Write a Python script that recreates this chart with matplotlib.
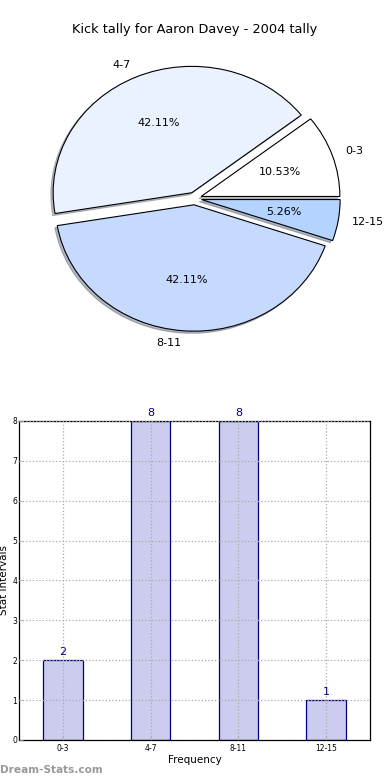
import matplotlib
matplotlib.use("Agg")
import matplotlib.pyplot as plt
import numpy as np

categories = ["0-3", "4-7", "8-11", "12-15"]
counts = [2, 8, 8, 1]
pie_colors = ["#ffffff", "#eaf1ff", "#c6d9ff", "#b4d4ff"]
title = "Kick tally for Aaron Davey - 2004 tally"

fig = plt.figure(figsize=(3.9, 7.8), dpi=100)

# Pie
ax1 = fig.add_axes([0.0545, 0.543, 0.889, 0.405])
wedges, texts, autotexts = ax1.pie(
    counts, labels=categories, colors=pie_colors, autopct="%1.2f%%",
    explode=[0.05] * len(counts),
    shadow=dict(ox=-0.012, oy=-0.012, shade=0.5),
    startangle=0,
    wedgeprops=dict(edgecolor="black", linewidth=0.8),
    textprops=dict(fontsize=8))
ax1.set_aspect("auto")
ax1.set_xlim(-1.25, 1.25)
ax1.set_ylim(-1.25, 1.25)
fig.text(0.5, 0.962, title, ha="center", va="center", fontsize=9.3)

# Bar
ax2 = fig.add_axes([0.049, 0.0513, 0.9, 0.409])
x = np.arange(len(categories))
ax2.bar(x, counts, width=0.45, color="#ccccee", edgecolor="#000080", linewidth=0.9)
for xi, c in zip(x, counts):
    ax2.text(xi, c + 0.08, str(c), ha="center", va="bottom", fontsize=8, color="#000080")
ax2.set_xlim(-0.5, 3.5)
ax2.set_ylim(0, 8)
ax2.set_xticks(x)
ax2.set_xticklabels(categories, fontsize=5.5)
ax2.set_yticks(range(0, 9))
ax2.tick_params(axis="y", labelsize=5.5, length=3, direction="in", width=0.5, colors="#aaaaaa", labelcolor="black", pad=1.5)
ax2.tick_params(axis="x", length=3, direction="in", width=0.5, colors="#aaaaaa", labelcolor="black", pad=3)
ax2.grid(True, linestyle=":", color="#aaaaaa", linewidth=0.9)
ax2.set_axisbelow(False)
for s in ax2.spines.values():
    s.set_linewidth(0.9)
ax2.set_xlabel("Frequency", fontsize=7.5, labelpad=1)
ax2.set_ylabel("Stat Intervals", fontsize=7.5, labelpad=1)
ax2.yaxis.set_label_coords(-0.028, 0.5)

fig.text(0.0, 0.013, "Dream-Stats.com", fontsize=7.6, color="#999999", fontweight="bold", ha="left", va="center")

fig.savefig("out.png", dpi=100)
